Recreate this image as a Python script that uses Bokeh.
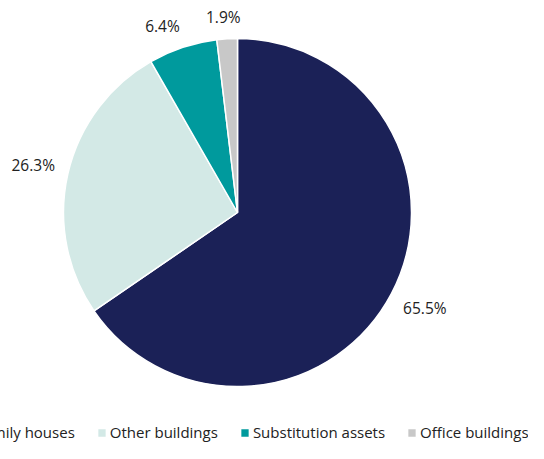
import math
from bokeh.plotting import figure
from bokeh.models import Range1d, Legend, LegendItem, ColumnDataSource
from bokeh.core.properties import value
from bokeh.embed import file_html
from bokeh.resources import INLINE

categories = ["Single-family houses", "Other buildings", "Substitution assets", "Office buildings"]
shares = [65.5, 26.3, 6.4, 1.9]
labels = ["65.5%", "26.3%", "6.4%", "1.9%"]
colors = ["#1B2157", "#D3E9E6", "#009A9D", "#C8C8C8"]

W, H = 528, 443
CX, CY, R = 237, H - 212, 174
total = sum(shares)
starts, ends, lx, ly = [], [], [], []
cum = 0.0
for s, lab in zip(shares, labels):
    a0 = math.pi / 2 - 2 * math.pi * cum / total
    cum += s
    a1 = math.pi / 2 - 2 * math.pi * cum / total
    starts.append(a1)
    ends.append(a0)
    mid = (a0 + a1) / 2
    c, sn = math.cos(mid), math.sin(mid)
    hw = 4.2 * len(lab)
    hh = 8
    r = R + 14
    lx.append(CX + r * c + hw * max(-1, min(1, 3 * c)))
    ly.append(CY + r * sn + hh * max(-1, min(1, 3 * sn)))

src = ColumnDataSource(dict(cat=categories, start=starts, end=ends, color=colors))
lsrc = ColumnDataSource(dict(x=lx, y=ly, t=labels))

p = figure(width=W, height=H, x_range=Range1d(0, W), y_range=Range1d(0, H),
           output_backend="svg", toolbar_location=None, min_border=0)
p.axis.visible = False
p.grid.visible = False
p.outline_line_color = None
p.background_fill_color = "white"

r = p.wedge(x=CX, y=CY, radius=R, start_angle="start", end_angle="end",
            fill_color="color", line_color="white", line_width=1.5, source=src)

p.text(x="x", y="y", text="t", source=lsrc, text_align="center", text_baseline="middle",
       text_font=value("Open Sans"), text_font_size="15.5px", text_color="#222222")

items = [LegendItem(label=c, renderers=[r], index=i) for i, c in enumerate(categories)]
legend = Legend(items=items, orientation="horizontal", location=(-82, 1),
                glyph_width=11, glyph_height=11, label_standoff=3, spacing=21,
                padding=0, margin=0, border_line_color=None, background_fill_alpha=0,
                label_height=16,
                label_text_font="Open Sans", label_text_font_size="15px",
                label_text_color="#222222")
p.add_layout(legend)

open("out.html", "w").write(file_html(p, INLINE))
